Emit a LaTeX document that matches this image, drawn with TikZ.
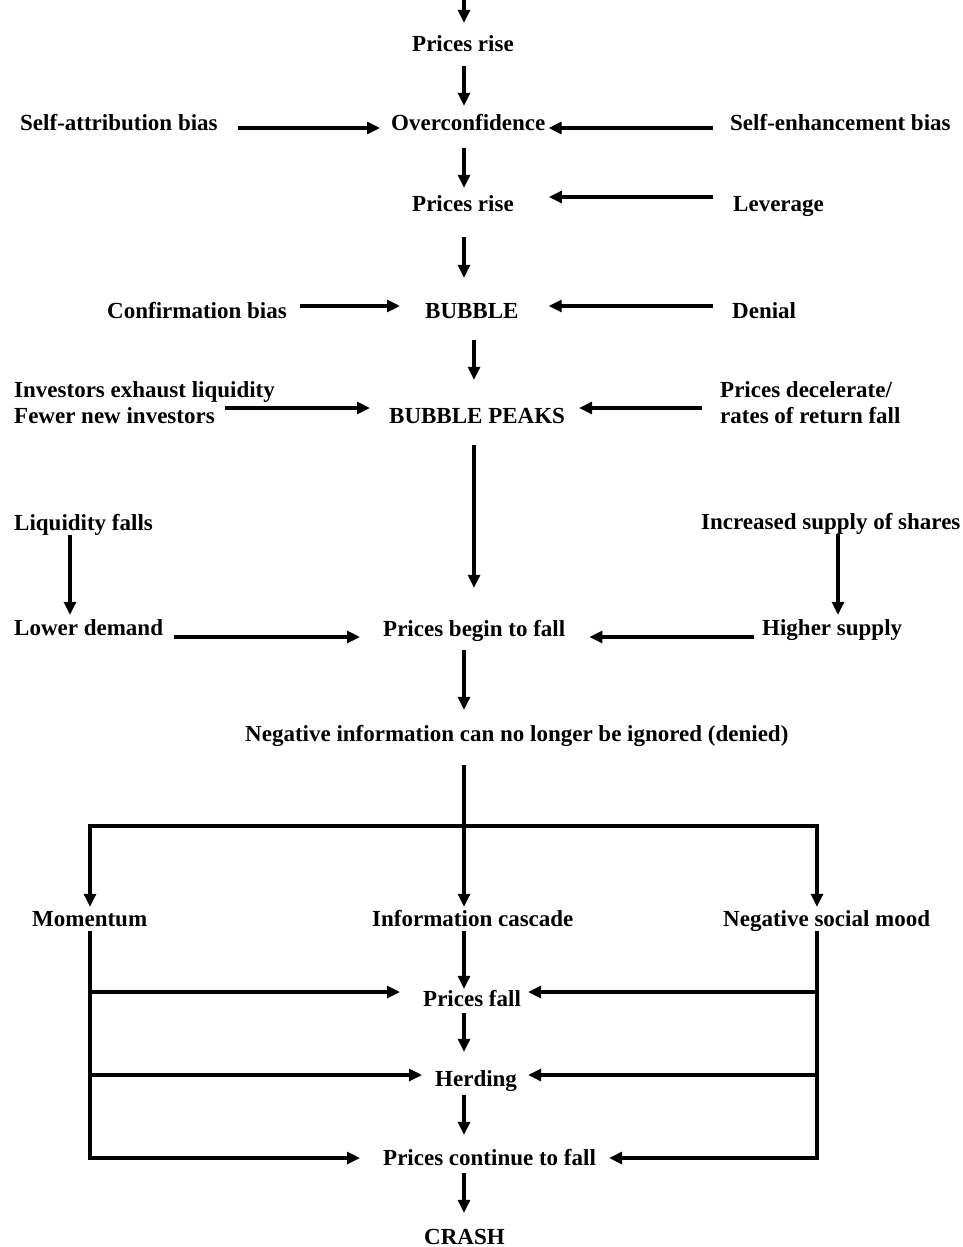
\documentclass[tikz,border=0pt]{standalone}
\usepackage{fontspec}
\setmainfont{Liberation Serif}
\usetikzlibrary{arrows.meta}
\begin{document}
\begin{tikzpicture}[x=1pt,y=-1pt,
    lbl/.style={anchor=base west,inner sep=0pt,text height=16pt,text depth=5pt,font=\fontsize{23}{26}\selectfont\bfseries},
    lbltwo/.style={anchor=north west,inner sep=0pt,align=left,font=\fontsize{23}{26}\selectfont\bfseries},
    arr/.style={line width=3.1pt,-{Triangle[length=13pt,width=12pt]}}]
\useasboundingbox (0,0) rectangle (962,1247);
\node[lbl] (pr1) at (412,52) {Prices rise};
\node[lbl] (sa) at (20,130) {Self-attribution bias};
\node[lbl] (oc) at (391,130) {Overconfidence};
\node[lbl] (se) at (730,130) {Self-enhancement bias};
\node[lbl] (pr2) at (412,211) {Prices rise};
\node[lbl] (lev) at (733,211) {Leverage};
\node[lbl] (conf) at (107,318) {Confirmation bias};
\node[lbl] (bub) at (425,318) {BUBBLE};
\node[lbl] (den) at (732,318) {Denial};
\node[lbltwo] (exh) at (14,381) {\rule{0pt}{16pt}Investors exhaust liquidity\\Fewer new investors};
\node[lbl] (peak) at (389,423) {BUBBLE PEAKS};
\node[lbltwo] (dec) at (720,381) {\rule{0pt}{16pt}Prices decelerate/\\rates of return fall};
\node[lbl] (liq) at (14,530) {Liquidity falls};
\node[lbl] (low) at (14,635) {Lower demand};
\node[lbl] (beg) at (383,636) {Prices begin to fall};
\node[lbl] (inc) at (701,529) {Increased supply of shares};
\node[lbl] (hig) at (762,635) {Higher supply};
\node[lbl] (neg) at (245,741) {Negative information can no longer be ignored (denied)};
\node[lbl] (mom) at (32,926) {Momentum};
\node[lbl] (casc) at (372,926) {Information cascade};
\node[lbl] (mood) at (723,926) {Negative social mood};
\node[lbl] (pf) at (423,1006) {Prices fall};
\node[lbl] (herd) at (435,1086) {Herding};
\node[lbl] (pcf) at (383,1165) {Prices continue to fall};
\node[lbl] (crash) at (424,1244) {CRASH};
\coordinate (in) at (464,0);
\coordinate (c1) at (464,0);
\coordinate (c2) at (474,0);
\coordinate (c3) at (70,0);
\coordinate (c4) at (838,0);
\coordinate (c5) at (817,0);
\coordinate (c6) at (90,0);
\coordinate (ya) at (0,128);
\coordinate (yb) at (0,197);
\coordinate (yc) at (0,306);
\coordinate (yd) at (0,408);
\coordinate (ye) at (0,637);
\coordinate (yf) at (0,992);
\coordinate (yg) at (0,1075);
\coordinate (yh) at (0,1158);
\coordinate (split) at (464,826);
\draw[arr,shorten >=13pt] (in) -- (pr1.north -| c1);
\draw[arr,shorten <=9pt,shorten >=8pt] (pr1.south -| c1) -- (oc.north -| c1);
\draw[arr,shorten <=13pt,shorten >=7pt] (oc.south -| c1) -- (pr2.north -| c1);
\draw[arr,shorten <=21pt,shorten >=24pt] (pr2.south -| c1) -- (bub.north -| c1);
\draw[arr,shorten <=17pt,shorten >=27pt] (bub.south -| c2) -- (peak.north -| c2);
\draw[arr,shorten <=17pt,shorten >=32pt] (peak.south -| c2) -- (beg.north -| c2);
\draw[arr,shorten >=4pt] (liq.south -| c3) -- (low.north -| c3);
\draw[arr,shorten >=4pt] (inc.south -| c4) -- (hig.north -| c4);
\draw[arr,shorten <=9pt,shorten >=15pt] (beg.south -| c1) -- (neg.north -| c1);
\draw[arr,shorten <=19pt,shorten >=3pt] (neg.south -| c1) -- (casc.north -| c1);
\draw[arr,shorten >=3pt] (split) -| (mom.north -| c6);
\draw[arr,shorten >=3pt] (split) -| (mood.north -| c5);
\draw[arr,shorten >=1pt] (casc.south -| c1) -- (pf.north -| c1);
\draw[arr,shorten <=2pt,shorten >=18pt] (pf.south -| c1) -- (herd.north -| c1);
\draw[arr,shorten <=4pt,shorten >=14pt] (herd.south -| c1) -- (pcf.north -| c1);
\draw[arr,shorten <=3pt,shorten >=15pt] (pcf.south -| c1) -- (crash.north -| c1);
\draw[arr,shorten <=20pt,shorten >=11pt] (sa.east |- ya) -- (oc.west |- ya);
\draw[arr,shorten <=17pt,shorten >=3pt] (se.west |- ya) -- (oc.east |- ya);
\draw[arr,shorten <=20pt,shorten >=35pt] (lev.west |- yb) -- (pr2.east |- yb);
\draw[arr,shorten <=13pt,shorten >=25pt] (conf.east |- yc) -- (bub.west |- yc);
\draw[arr,shorten <=19pt,shorten >=30pt] (den.west |- yc) -- (bub.east |- yc);
\draw[arr,shorten <=-50pt,shorten >=19pt] (exh.east |- yd) -- (peak.west |- yd);
\draw[arr,shorten <=18pt,shorten >=14pt] (dec.west |- yd) -- (peak.east |- yd);
\draw[arr,shorten <=11pt,shorten >=23pt] (low.east |- ye) -- (beg.west |- ye);
\draw[arr,shorten <=8pt,shorten >=24pt] (hig.west |- ye) -- (beg.east |- ye);
\draw[arr,shorten >=23pt] (mom.south -| c6) -- (c6 |- yh) -- (pcf.west |- yh);
\draw[arr,shorten >=23pt] (c6 |- yf) -- (pf.west |- yf);
\draw[arr,shorten >=13pt] (c6 |- yg) -- (herd.west |- yg);
\draw[arr,shorten >=13pt] (mood.south -| c5) -- (c5 |- yh) -- (pcf.east |- yh);
\draw[arr,shorten >=7pt] (c5 |- yf) -- (pf.east |- yf);
\draw[arr,shorten >=11pt] (c5 |- yg) -- (herd.east |- yg);
\end{tikzpicture}
\end{document}
